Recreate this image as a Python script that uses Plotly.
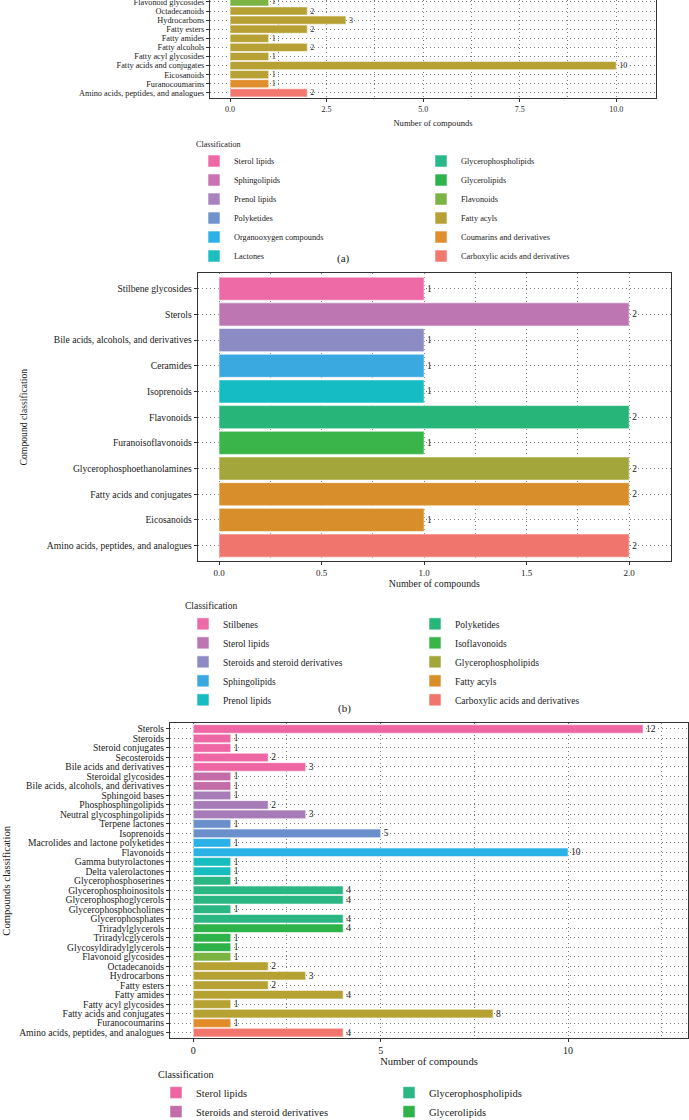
import plotly.graph_objects as go

W, H = 689, 1120
FONT = "Liberation Serif"
INK = "#1a1a1a"
GRID = "#7a7a7a"
LINE = "#333333"

# ---------------- Panel (a) data (top to bottom, visible part) ----------------
a_categories = ["Flavonoid glycosides", "Octadecanoids", "Hydrocarbons", "Fatty esters",
                "Fatty amides", "Fatty alcohols", "Fatty acyl glycosides",
                "Fatty acids and conjugates", "Eicosanoids", "Furanocoumarins",
                "Amino acids, peptides, and analogues"]
a_values = [1, 2, 3, 2, 1, 2, 1, 10, 1, 1, 2]
a_classes = ["Flavonoids", "Fatty acyls", "Fatty acyls", "Fatty acyls", "Fatty acyls",
             "Fatty acyls", "Fatty acyls", "Fatty acyls", "Fatty acyls",
             "Coumarins and derivatives", "Carboxylic acids and derivatives"]
a_legend_left = ["Sterol lipids", "Sphingolipids", "Prenol lipids", "Polyketides",
                 "Organooxygen compounds", "Lactones"]
a_legend_right = ["Glycerophospholipids", "Glycerolipids", "Flavonoids", "Fatty acyls",
                  "Coumarins and derivatives", "Carboxylic acids and derivatives"]
a_colors = ["#EF69A6", "#CB72B3", "#A982C0", "#7093CD", "#2CB1E6", "#1DBDC2",
            "#29B888", "#2DB44C", "#7BB442", "#B7A135", "#E08D2D", "#F2786F"]

# ---------------- Panel (b) data ----------------
b_categories = ["Stilbene glycosides", "Sterols", "Bile acids, alcohols, and derivatives",
                "Ceramides", "Isoprenoids", "Flavonoids", "Furanoisoflavonoids",
                "Glycerophosphoethanolamines", "Fatty acids and conjugates", "Eicosanoids",
                "Amino acids, peptides, and analogues"]
b_values = [1, 2, 1, 1, 1, 2, 1, 2, 2, 1, 2]
b_classes = ["Stilbenes", "Sterol lipids", "Steroids and steroid derivatives", "Sphingolipids",
             "Prenol lipids", "Polyketides", "Isoflavonoids", "Glycerophospholipids",
             "Fatty acyls", "Fatty acyls", "Carboxylic acids and derivatives"]
b_legend_left = ["Stilbenes", "Sterol lipids", "Steroids and steroid derivatives",
                 "Sphingolipids", "Prenol lipids"]
b_legend_right = ["Polyketides", "Isoflavonoids", "Glycerophospholipids", "Fatty acyls",
                  "Carboxylic acids and derivatives"]
b_colors = ["#EE6AA7", "#BE76B3", "#8C8BC4", "#3AA9E0", "#16BCC3",
            "#27B57A", "#3AB54A", "#A3A63A", "#D88F2B", "#F0756D"]

# ---------------- Panel (c) data ----------------
c_categories = ["Sterols", "Steroids", "Steroid conjugates", "Secosteroids",
                "Bile acids and derivatives", "Steroidal glycosides",
                "Bile acids, alcohols, and derivatives", "Sphingoid bases",
                "Phosphosphingolipids", "Neutral glycosphingolipids", "Terpene lactones",
                "Isoprenoids", "Macrolides and lactone polyketides", "Flavonoids",
                "Gamma butyrolactones", "Delta valerolactones", "Glycerophosphoserines",
                "Glycerophosphoinositols", "Glycerophosphoglycerols", "Glycerophosphocholines",
                "Glycerophosphates", "Triradylglycerols", "Triradylcglycerols",
                "Glycosyldiradylglycerols", "Flavonoid glycosides", "Octadecanoids",
                "Hydrocarbons", "Fatty esters", "Fatty amides", "Fatty acyl glycosides",
                "Fatty acids and conjugates", "Furanocoumarins",
                "Amino acids, peptides, and analogues"]
c_values = [12, 1, 1, 2, 3, 1, 1, 1, 2, 3, 1, 5, 1, 10, 1, 1, 1, 4, 4, 1, 4, 4, 1, 1, 1,
            2, 3, 2, 4, 1, 8, 1, 4]
c_classes = (["Sterol lipids"] * 5 + ["Steroids and steroid derivatives"] * 2
             + ["Sphingolipids"] * 3 + ["Prenol lipids"] * 2 + ["Polyketides"] * 2
             + ["Lactones"] * 2 + ["Glycerophospholipids"] * 5 + ["Glycerolipids"] * 3
             + ["Flavonoids"] + ["Fatty acyls"] * 6 + ["Coumarins and derivatives"]
             + ["Carboxylic acids and derivatives"])
c_legend_left = ["Sterol lipids", "Steroids and steroid derivatives", "Sphingolipids",
                 "Prenol lipids", "Polyketides", "Lactones"]
c_legend_right = ["Glycerophospholipids", "Glycerolipids", "Flavonoids", "Fatty acyls",
                  "Coumarins and derivatives", "Carboxylic acids and derivatives"]
c_colors = ["#EE66A4", "#C36CA8", "#A67BB8", "#6A8FCB", "#2AB1E6", "#17BCBF",
            "#2AB784", "#2DB34A", "#7BB342", "#B6A133", "#E28B2A", "#F2766D"]

fig = go.Figure()


def add_panel(cats, vals, classes, left, right, colors, xa, ya, leg, tag, tsize):
    order = left + right
    for i, cl in enumerate(order):
        ys = [c for c, k in zip(cats, classes) if k == cl]
        xs = [v for v, k in zip(vals, classes) if k == cl]
        txt = [str(v) for v in xs]
        if not ys:  # class present only in the legend of the visible part
            ys, xs, txt = [None], [None], [""]
        fig.add_trace(go.Bar(
            orientation="h", y=ys, x=xs, name=cl,
            xaxis=xa, yaxis=ya, legend=leg,
            legendgroup=tag + ("L" if i < len(left) else "R"),
            marker=dict(color=colors[i], line=dict(color="rgba(255,255,255,0.7)", width=0.8)),
            width=0.9, text=txt, textposition="outside",
            textfont=dict(size=tsize, color=INK, family=FONT),
            cliponaxis=False, constraintext="none", hoverinfo="x+y",
        ))


add_panel(a_categories, a_values, a_classes, a_legend_left, a_legend_right, a_colors,
          "x", "y", "legend", "a", 8)
add_panel(b_categories, b_values, b_classes, b_legend_left, b_legend_right, b_colors,
          "x2", "y2", "legend2", "b", 9.5)
add_panel(c_categories, c_values, c_classes, c_legend_left, c_legend_right, c_colors,
          "x3", "y3", "legend3", "c", 9.5)


def px_x(p):
    return p / W


def px_y(p):
    return 1 - p / H


def xaxis(anchor, dom, rng, dtick, minor, fmt, fsize, mirror, title, tsize, standoff):
    return dict(
        anchor=anchor,
        domain=[px_x(dom[0]), px_x(dom[1])], range=rng, tickmode="linear", tick0=0,
        dtick=dtick, tickformat=fmt, showline=True, linecolor=LINE, linewidth=1,
        mirror=mirror, ticks="outside", ticklen=3, tickcolor=LINE,
        tickfont=dict(size=fsize, color=INK),
        showgrid=True, gridcolor=GRID, gridwidth=0.8, griddash="1px,3px", zeroline=False,
        minor=dict(dtick=minor, tick0=0, showgrid=True, gridcolor=GRID, gridwidth=0.8,
                   griddash="1px,3px", ticks=""),
        title=dict(text=title, font=dict(size=tsize, color=INK), standoff=standoff),
        fixedrange=True,
    )


def yaxis(anchor, dom, cats, rng, fsize, title, tsize, standoff):
    return dict(
        anchor=anchor,
        domain=[px_y(dom[1]), px_y(dom[0])], type="category",
        categoryorder="array", categoryarray=list(reversed(cats)), range=rng,
        tickmode="linear", tick0=0, dtick=1,
        showline=True, linecolor=LINE, linewidth=1, mirror=True,
        ticks="outside", ticklen=3, tickcolor=LINE, tickfont=dict(size=fsize, color=INK),
        showgrid=True, gridcolor=GRID, gridwidth=0.8, griddash="1px,3px", zeroline=False,
        title=dict(text=title, font=dict(size=tsize, color=INK), standoff=standoff),
        fixedrange=True,
    )


def legend(x, top, fsize, tfsize, ew):
    return dict(
        orientation="h", traceorder="grouped", x=px_x(x), xanchor="left",
        y=px_y(top), yanchor="top", entrywidth=ew, entrywidthmode="pixels",
        font=dict(size=fsize, color=INK, family=FONT), bgcolor="rgba(0,0,0,0)",
        title=dict(text="Classification", side="top", font=dict(size=tfsize, color=INK)),
    )


fig.update_layout(
    width=W, height=H, template="none",
    margin=dict(l=0, r=0, t=0, b=0, autoexpand=False),
    paper_bgcolor="white", plot_bgcolor="white",
    font=dict(family=FONT, color=INK, size=9),
    barmode="overlay", showlegend=True,
    xaxis=xaxis("y", (210, 656), [-0.52, 11.03], 2.5, 1.25, ".1f", 8, False,
                "Number of compounds", 8.6, 7),
    yaxis=yaxis("x", (0, 98.3), a_categories, [-0.6, 10.21], 8.3, None, 9, 0),
    xaxis2=xaxis("y2", (197.7, 671), [-0.104, 2.204], 0.5, 0.25, ".1f", 9, True,
                 "Number of compounds", 9.9, 0),
    yaxis2=yaxis("x2", (273.3, 561), b_categories, [-0.6, 10.6], 9.6,
                 "Compound classification", 9.7, 17),
    xaxis3=xaxis("y3", (170, 688), [-0.62, 13.2], 5, 2.5, "d", 10, True,
                 "Number of compounds", 10.6, 2),
    yaxis3=yaxis("x3", (723.3, 1038.3), c_categories, [-0.6, 32.6], 9.6,
                 "Compounds classification", 10.6, 6),
    legend=legend(194, 136, 8.3, 8.1, 182),
    legend2=legend(183, 597, 9.5, 9.5, 187),
    legend3=legend(156, 1065, 10.5, 10.1, 188),
    annotations=[
        dict(text="(a)", x=px_x(343), y=px_y(259), xref="paper", yref="paper",
             xanchor="center", yanchor="middle", showarrow=False,
             font=dict(size=11, color=INK)),
        dict(text="(b)", x=px_x(344), y=px_y(708), xref="paper", yref="paper",
             xanchor="center", yanchor="middle", showarrow=False,
             font=dict(size=11, color=INK)),
    ],
)

fig.write_html("out.html", config={"displayModeBar": False},
               post_script="document.body.style.margin='0';")
